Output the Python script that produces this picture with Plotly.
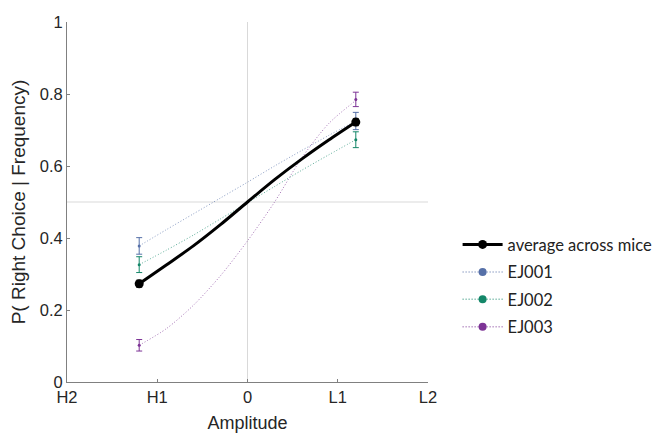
import plotly.graph_objects as go

# ---- data ----
tick_vals = [-2, -1, 0, 1, 2]
tick_text = ["H2", "H1", "0", "L1", "L2"]

point_x = [-1.2, 1.2]
avg_y = [0.273, 0.722]
avg_err = [0.010, 0.010]
ej001_y = [0.378, 0.725]
ej001_err = [0.023, 0.024]
ej002_y = [0.326, 0.673]
ej002_err = [0.022, 0.022]
ej003_y = [0.102, 0.785]
ej003_err = [0.016, 0.020]

curve_x = [-1.2, -0.9, -0.6, -0.3, 0.0, 0.3, 0.6, 0.9, 1.2]
avg_curve = [0.273, 0.325, 0.378, 0.437, 0.500, 0.562, 0.619, 0.672, 0.722]
ej001_curve = [0.378, 0.423, 0.467, 0.511, 0.555, 0.600, 0.643, 0.685, 0.725]
ej002_curve = [0.326, 0.366, 0.408, 0.453, 0.498, 0.543, 0.588, 0.631, 0.673]
ej003_curve = [0.102, 0.148, 0.213, 0.295, 0.392, 0.500, 0.622, 0.718, 0.782]

names = ["EJ001", "EJ002", "EJ003"]
colors = ["rgb(86,112,168)", "rgb(20,135,105)", "rgb(125,52,150)"]
curve_colors = ["rgba(86,112,168,0.7)", "rgba(20,135,105,0.7)", "rgba(125,52,150,0.7)"]
mouse_y = [ej001_y, ej002_y, ej003_y]
mouse_err = [ej001_err, ej002_err, ej003_err]
mouse_curve = [ej001_curve, ej002_curve, ej003_curve]

AX_FONT = "Liberation Sans, Arial, sans-serif"
LEG_FONT = "Lato, Noto Sans, sans-serif"
DOT = "1px,2px"

fig = go.Figure()

# reference lines
fig.add_shape(type="line", x0=0, x1=0, y0=0, y1=1, xref="x", yref="y",
              line=dict(color="#d9d9d9", width=1), layer="below")
fig.add_shape(type="line", x0=-2, x1=2, y0=0.5, y1=0.5, xref="x", yref="y",
              line=dict(color="#d9d9d9", width=1), layer="below")

# individual mice fitted curves and points
for nm, c, cc, ys, es, cy in zip(names, colors, curve_colors, mouse_y, mouse_err, mouse_curve):
    fig.add_trace(go.Scatter(x=curve_x, y=cy, mode="lines",
                             line=dict(color=cc, width=1, dash=DOT, shape="spline", smoothing=0.8),
                             showlegend=False, hoverinfo="skip"))
    fig.add_trace(go.Scatter(x=point_x, y=ys, mode="markers", marker=dict(color=c, size=3),
                             error_y=dict(type="data", array=es, color=c, thickness=1, width=3),
                             showlegend=False))

# average
fig.add_trace(go.Scatter(x=curve_x, y=avg_curve, mode="lines",
                         line=dict(color="black", width=3, shape="spline", smoothing=0.8),
                         showlegend=False, hoverinfo="skip"))
fig.add_trace(go.Scatter(x=point_x, y=avg_y, mode="markers", marker=dict(color="black", size=9),
                         error_y=dict(type="data", array=avg_err, color="#333", thickness=1, width=3),
                         showlegend=False))

# legend entries
fig.add_trace(go.Scatter(x=[None], y=[None], mode="lines+markers", name="average across mice",
                         line=dict(color="black", width=3), marker=dict(color="black", size=9), legendgroup="a"))
for i, (nm, c, cc) in enumerate(zip(names, colors, curve_colors)):
    fig.add_trace(go.Scatter(x=[None], y=[None], mode="lines+markers", name=nm,
                             line=dict(color=cc, width=1.5, dash=DOT), marker=dict(color=c, size=8),
                             legendgroup="g%d" % i))

# the page body adds an 8px offset; the figure is sized so the plot lands where the reference has it
fig.update_layout(
    width=657, height=425,
    margin=dict(l=59, r=237, t=14, b=51, autoexpand=False),
    plot_bgcolor="white", paper_bgcolor="white",
    showlegend=True,
    legend=dict(x=1.082, y=0.43, xanchor="left", yanchor="top",
                font=dict(family=LEG_FONT, size=16.5, color="#222"),
                tracegroupgap=3, itemwidth=40, bgcolor="rgba(0,0,0,0)"),
    xaxis=dict(range=[-2, 2], tickvals=tick_vals, ticktext=tick_text, automargin=False,
               showgrid=False, zeroline=False, showline=True, linecolor="#808080", linewidth=1,
               ticks="inside", ticklen=3, tickcolor="#808080",
               tickfont=dict(family=AX_FONT, size=16.5, color="#262626"),
               title=dict(text="Amplitude", font=dict(family=AX_FONT, size=18, color="#262626"), standoff=12)),
    yaxis=dict(range=[0, 1], tickvals=[0, 0.2, 0.4, 0.6, 0.8, 1], ticktext=["0", "0.2", "0.4", "0.6", "0.8", "1"],
               automargin=False,
               showgrid=False, zeroline=False, showline=True, linecolor="#808080", linewidth=1,
               ticks="inside", ticklen=3, tickcolor="#808080",
               tickfont=dict(family=AX_FONT, size=16.5, color="#262626"),
               title=dict(text="P( Right Choice | Frequency)", font=dict(family=AX_FONT, size=19, color="#262626"),
                          standoff=17)),
)

fig.write_html("out.html")
